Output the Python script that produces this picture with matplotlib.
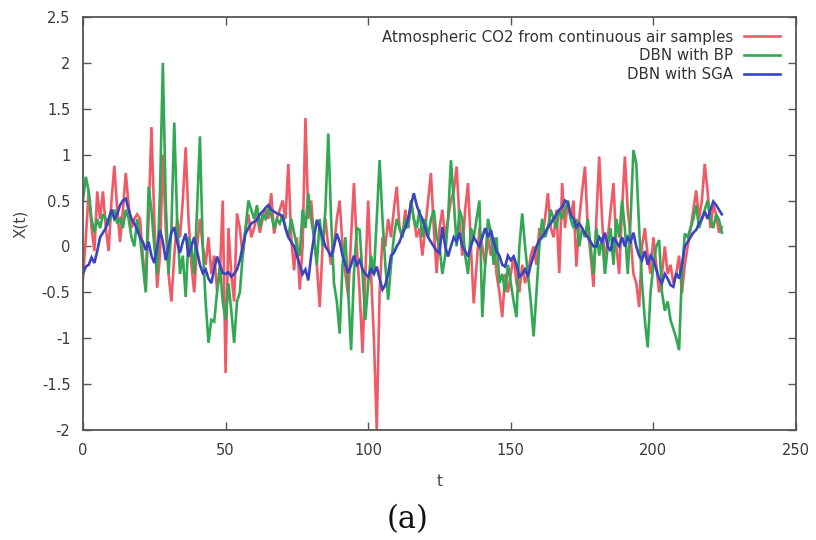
import matplotlib
matplotlib.use("Agg")
import matplotlib.pyplot as plt
import numpy as np

t = list(range(0, 225))

co2 = [-0.35, 0.1, 0.6, 0.2, -0.05, 0.6, 0.3, 0.6, 0.2, -0.05,
       0.5, 0.88, 0.4, 0.05, 0.4, 0.8, 0.45, 0.2, 0.3, 0.35,
       0.3, -0.1, -0.47, 0.3, 1.3, 0.3, -0.45, -0.1, 1.0, 0.2,
       -0.3, -0.6, -0.1, 0.3, 0.1, 0.5, 1.08, 0.3, -0.2, -0.5,
       0.0, 0.3, 0.0, -0.2, 0.1, -0.3, -0.1, -0.47, -0.3, 0.5,
       -1.38, 0.2, -0.3, -0.6, 0.36, 0.2, -0.1, 0.2, 0.35, 0.1,
       0.2, 0.35, 0.15, 0.3, 0.4, 0.3, 0.58, 0.14, 0.3, 0.4,
       0.5, 0.3, 0.9, 0.1, -0.26, 0.1, -0.47, 0.0, 1.4, 0.3,
       0.5, 0.1, -0.2, -0.66, 0.0, 0.3, 0.0, -0.2, 0.0, 0.3,
       0.5, 0.0, -0.3, -0.55, 0.1, 0.69, 0.0, -0.5, -1.16, -0.3,
       0.5, -0.3, -1.0, -2.0, -0.5, 0.1, 0.0, 0.3, 0.1, 0.4,
       0.65, 0.2, 0.1, 0.4, 0.2, 0.5, 0.3, 0.1, 0.2, -0.1,
       0.2, 0.5, 0.8, 0.2, -0.29, 0.2, 0.4, 0.1, 0.3, 0.5,
       0.6, 0.87, 0.3, -0.1, 0.4, 0.69, 0.0, -0.62, -0.2, 0.2,
       0.0, -0.2, 0.1, -0.1, 0.1, -0.3, -0.5, -0.77, -0.3, -0.5,
       -0.3, -0.1, -0.4, -0.5, -0.2, -0.4, -0.3, -0.1, 0.0, -0.2,
       0.2, 0.1, 0.3, 0.58, 0.2, 0.1, 0.4, -0.29, 0.69, 0.2,
       0.5, 0.3, 0.5, -0.22, 0.3, 0.6, 0.87, 0.2, -0.1, -0.44,
       0.3, 0.98, 0.3, -0.2, 0.1, 0.4, 0.69, 0.0, -0.3, 0.4,
       0.98, 0.4, 0.1, -0.3, -0.4, -0.66, 0.0, 0.2, -0.1, -0.3,
       0.1, -0.2, -0.5, -0.3, 0.0, -0.3, -0.2, -0.4, -0.3, -0.1,
       -0.51, -0.2, 0.0, 0.18, 0.4, 0.61, 0.3, 0.5, 0.9, 0.6,
       0.2, 0.45, 0.35, 0.15, 0.21]

dbn_bp = [0.5, 0.76, 0.6, 0.3, 0.15, 0.3, 0.2, 0.35, 0.3, 0.25,
          0.35, 0.4, 0.25, 0.3, 0.2, 0.4, 0.3, 0.1, 0.0, 0.3,
          0.1, -0.2, -0.5, 0.65, 0.4, 0.0, -0.3, 0.6, 2.0, 0.5,
          -0.3, 0.2, 1.35, 0.3, -0.3, -0.1, -0.55, 0.1, 0.0, -0.3,
          0.4, 1.2, 0.0, -0.6, -1.05, -0.8, -0.82, -0.5, -0.2, -0.6,
          -0.8, -0.4, -0.7, -1.05, -0.6, -0.5, -0.1, 0.2, 0.5, 0.4,
          0.3, 0.45, 0.21, 0.35, 0.3, 0.4, 0.35, 0.2, 0.3, 0.25,
          0.35, 0.2, 0.1, 0.3, 0.15, 0.0, -0.1, 0.4, 0.2, 0.58,
          0.3, 0.1, -0.2, 0.3, 0.0, 0.4, 1.23, 0.3, -0.4, -0.6,
          -0.95, -0.2, 0.1, -0.5, -1.13, -0.3, 0.2, 0.18, -0.3, -0.8,
          -0.4, -0.1, -0.3, 0.3, 0.94, 0.3, -0.2, -0.58, -0.2, 0.1,
          0.3, 0.2, 0.1, 0.3, 0.2, 0.5, 0.3, 0.2, 0.4, 0.1,
          0.3, 0.1, 0.3, 0.4, 0.1, 0.0, -0.3, -0.1, 0.3, 0.94,
          0.5, 0.0, 0.4, 0.3, -0.1, -0.3, 0.2, 0.1, 0.3, 0.5,
          -0.77, -0.2, 0.3, 0.15, -0.2, 0.1, -0.4, -0.3, -0.5, -0.2,
          -0.4, -0.6, -0.77, 0.0, 0.36, 0.0, -0.3, -0.6, -0.98, -0.5,
          0.0, 0.3, 0.1, 0.2, 0.4, 0.3, 0.2, 0.4, 0.3, 0.4,
          0.5, 0.3, 0.2, 0.3, 0.0, 0.2, 0.1, 0.3, 0.0, -0.3,
          0.2, -0.1, 0.1, -0.3, 0.0, 0.2, -0.2, 0.3, 0.1, 0.5,
          0.2, -0.3, 0.3, 1.05, 0.9, 0.2, -0.4, -0.8, -1.1, -0.5,
          -0.2, 0.0, 0.07, -0.5, -0.7, -0.6, -0.8, -0.9, -1.0, -1.13,
          -0.3, 0.14, 0.1, 0.2, 0.3, 0.45, 0.2, 0.3, 0.4, 0.5,
          0.3, 0.2, 0.35, 0.29, 0.15]

dbn_sga = [-0.3, -0.22, -0.2, -0.12, -0.18, -0.05, 0.1, 0.15, 0.2, 0.3,
           0.4, 0.3, 0.35, 0.45, 0.5, 0.52, 0.4, 0.3, 0.25, 0.18,
           0.1, 0.05, -0.04, 0.05, -0.1, -0.18, 0.0, 0.18, 0.05, -0.15,
           0.0, 0.15, 0.21, 0.05, -0.07, 0.05, 0.14, -0.11, 0.0, 0.1,
           -0.05, -0.2, -0.29, -0.25, -0.35, -0.4, -0.25, -0.11, -0.2, -0.29,
           -0.3, -0.28, -0.33, -0.3, -0.25, -0.15, 0.0, 0.14, 0.2, 0.25,
           0.27, 0.29, 0.35, 0.38, 0.42, 0.45, 0.4, 0.38, 0.36, 0.35,
           0.32, 0.2, 0.1, 0.05, 0.0, -0.1, -0.2, -0.3, -0.25, -0.37,
           -0.1, 0.1, 0.29, 0.2, 0.1, 0.0, -0.05, -0.11, 0.0, 0.14,
           0.05, -0.1, -0.2, -0.29, -0.2, -0.1, -0.2, -0.15, -0.25, -0.3,
           -0.33, -0.25, -0.3, -0.22, -0.35, -0.47, -0.42, -0.3, -0.1, -0.07,
           0.0, 0.05, 0.14, 0.2, 0.3, 0.45, 0.58, 0.45, 0.36, 0.3,
           0.2, 0.1, 0.05, 0.0, -0.05, -0.07, 0.21, 0.0, -0.11, 0.0,
           0.1, 0.05, 0.15, 0.0, -0.05, -0.11, 0.0, 0.1, 0.05, 0.0,
           0.1, 0.2, 0.1, 0.18, 0.05, -0.05, -0.1, -0.2, -0.22, -0.1,
           -0.15, -0.11, -0.2, -0.33, -0.3, -0.25, -0.33, -0.2, -0.1, 0.0,
           0.07, 0.1, 0.15, 0.21, 0.25, 0.3, 0.35, 0.4, 0.43, 0.5,
           0.47, 0.35, 0.3, 0.21, 0.25, 0.2, 0.14, 0.1, 0.05, 0.0,
           0.0, 0.1, 0.05, 0.15, 0.0, -0.05, 0.1, 0.05, 0.0, 0.1,
           0.0, 0.1, 0.05, 0.15, 0.0, -0.1, -0.15, -0.05, -0.2, -0.1,
           -0.15, -0.25, -0.35, -0.4, -0.3, -0.35, -0.42, -0.44, -0.29, -0.35,
           -0.2, 0.0, 0.05, 0.1, 0.15, 0.18, 0.25, 0.3, 0.38, 0.3,
           0.4, 0.49, 0.45, 0.4, 0.35]

labels = ["Atmospheric CO2 from continuous air samples", "DBN with BP", "DBN with SGA"]
colors = ["#f05a66", "#32a854", "#3a44c0"]

xticks = [0, 50, 100, 150, 200, 250]
yticks = [-2, -1.5, -1, -0.5, 0, 0.5, 1, 1.5, 2, 2.5]
yticklabels = ["-2", "-1.5", "-1", "-0.5", "0", "0.5", "1", "1.5", "2", "2.5"]

fig = plt.figure(figsize=(8.16, 5.40), dpi=100)
ax = fig.add_axes([0.1017, 0.2037, 0.8738, 0.7648])

for series, lab, col in zip([co2, dbn_bp, dbn_sga], labels, colors):
    ax.plot(t, series, color=col, lw=1.9, label=lab, solid_joinstyle="miter")

ax.set_xlim(0, 250)
ax.set_ylim(-2, 2.5)
ax.set_xticks(xticks)
ax.set_xticklabels([str(v) for v in xticks])
ax.set_yticks(yticks)
ax.set_yticklabels(yticklabels)

frame_col = "#555555"
for sp in ax.spines.values():
    sp.set_color(frame_col)
    sp.set_linewidth(1.3)
ax.tick_params(direction="in", length=6, width=1.0, color=frame_col,
               top=True, right=True, labelsize=10.5, labelcolor="#3a3a3a", pad=9)

ax.set_xlabel("t", fontsize=11, color="#444444", labelpad=12)
ax.set_ylabel("X(t)", fontsize=11, color="#444444", labelpad=10)

leg = ax.legend(loc="upper right", frameon=False, markerfirst=False,
                fontsize=10.8, handlelength=2.4, labelspacing=0.25,
                handletextpad=0.7, borderaxespad=0.3,
                bbox_to_anchor=(0.992, 0.995))
for txt in leg.get_texts():
    txt.set_color("#333333")

fig.text(0.5, 0.037, "(a)", ha="center", va="center", fontsize=22,
         family="DejaVu Serif", color="#111111")

fig.savefig("out.png", dpi=100)
